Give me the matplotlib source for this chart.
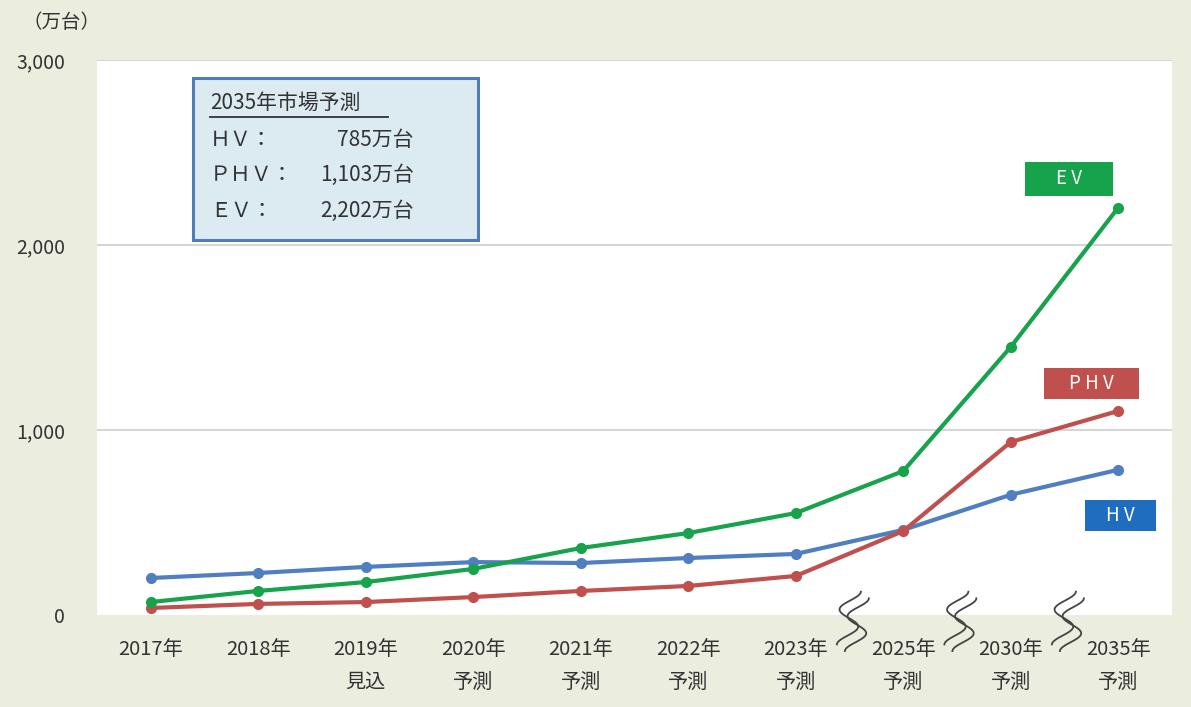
"""EV / PHV / HV market forecast line chart."""
import numpy as np
import matplotlib
matplotlib.use("Agg")
import matplotlib.pyplot as plt
from matplotlib.patches import Rectangle
from matplotlib.transforms import blended_transform_factory

plt.rcParams['font.family'] = ['Noto Sans CJK JP', 'DejaVu Sans']

# data (万台)
years = ["2017年", "2018年", "2019年\n見込", "2020年\n予測", "2021年\n予測",
         "2022年\n予測", "2023年\n予測", "2025年\n予測", "2030年\n予測", "2035年\n予測"]
hv = [200, 227, 260, 286, 281, 308, 330, 460, 650, 785]
phv = [38, 60, 70, 97, 130, 157, 211, 454, 935, 1103]
ev = [70, 130, 178, 249, 362, 443, 551, 778, 1449, 2202]
yticks = [0, 1000, 2000, 3000]
ytick_labels = ["0", "1,000", "2,000", "3,000"]
breaks = [6.55, 7.55, 8.55]

BG = "#ebeddf"
C_EV = "#17a24c"
C_PHV = "#c0504d"
C_HV = "#4f7fc0"
TXT = "#333333"

fig = plt.figure(figsize=(11.91, 7.07), dpi=100)
fig.patch.set_facecolor(BG)
ax = fig.add_axes([97 / 1191, 92 / 707, 1075 / 1191, 555 / 707])
ax.set_facecolor("white")

x = np.arange(len(years))
ax.set_xlim(-0.5, len(years) - 0.5)
ax.set_ylim(0, 3000)

for yv in yticks[1:]:
    ax.axhline(yv, color="#d6d6d6", lw=1.5, zorder=1)

for vals, col in [(hv, C_HV), (phv, C_PHV), (ev, C_EV)]:
    ax.plot(x, vals, color=col, lw=3, marker="o", ms=7, zorder=3)

for s in ax.spines.values():
    s.set_visible(False)
ax.set_yticks(yticks)
ax.set_yticklabels(ytick_labels, fontsize=14, color=TXT)
ax.tick_params(axis="y", length=0, pad=23)
ax.set_xticks(x)
ax.set_xticklabels(years, fontsize=14.5, color=TXT, linespacing=1.75)
ax.tick_params(axis="x", length=0, pad=17)
for lab in ax.get_xticklabels():
    lab.set_verticalalignment("top")

fig.text(22 / 1191, 1 - 22 / 707, "（万台）", fontsize=14, color=TXT,
         ha="left", va="center")

# break marks on the axis
trans = blended_transform_factory(ax.transData, ax.transAxes)
s = np.linspace(0, 1, 60)
px = 1 / 107.5
for b in breaks:
    for off in (-4, 4):
        xs = b + (off + 10 * np.cos(3 * np.pi * s) - 4 * s) * px
        ys = 0.036 - s * 0.095 - off * 0.0015
        ax.plot(xs, ys, color="#444444", lw=1.3, transform=trans, clip_on=False, zorder=4)

# info box
axw, axh = 1075, 555
def ax_px(xp, yp):
    return ((xp - 97) / axw, (615 - yp) / axh)

x0, y0 = ax_px(193, 240)
x1, y1 = ax_px(478, 78)
ax.add_patch(Rectangle((x0, y0), x1 - x0, y1 - y0, transform=ax.transAxes,
                       facecolor="#dceaf2", edgecolor="#4f7db5", lw=2.2, zorder=5))
tx, ty = ax_px(210, 103)
ax.text(tx, ty, "2035年市場予測", transform=ax.transAxes, fontsize=15,
        color=TXT, ha="left", va="center", zorder=6)
ux0, uy = ax_px(210, 117)
ux1, _ = ax_px(388, 117)
ax.plot([ux0, ux1], [uy, uy], color=TXT, lw=1.3, transform=ax.transAxes, zorder=6)
rows = [("ＨＶ：", "785万台", 140), ("ＰＨＶ：", "1,103万台", 175), ("ＥＶ：", "2,202万台", 211)]
for name, val, yp in rows:
    lx, ly = ax_px(210, yp)
    rx, _ = ax_px(414, yp)
    ax.text(lx, ly, name, transform=ax.transAxes, fontsize=15, color=TXT,
            ha="left", va="center", zorder=6)
    ax.text(rx, ly, val, transform=ax.transAxes, fontsize=15, color=TXT,
            ha="right", va="center", zorder=6)

# series labels
tags = [("E V", C_EV, 1025, 162, 88, 34), ("P H V", C_PHV, 1044, 368, 95, 31),
        ("H V", "#1f6dbf", 1085, 500, 71, 31)]
for name, col, lx, ty_, w, h in tags:
    ax0, ay0 = ax_px(lx, ty_ + h)
    ax1_, ay1 = ax_px(lx + w, ty_)
    ax.add_patch(Rectangle((ax0, ay0), ax1_ - ax0, ay1 - ay0, transform=ax.transAxes,
                           facecolor=col, edgecolor="none", zorder=5))
    ax.text((ax0 + ax1_) / 2, (ay0 + ay1) / 2, name, transform=ax.transAxes,
            fontsize=13.5, color="white", ha="center", va="center", zorder=6)

fig.savefig("out.png", dpi=100, facecolor=BG)
